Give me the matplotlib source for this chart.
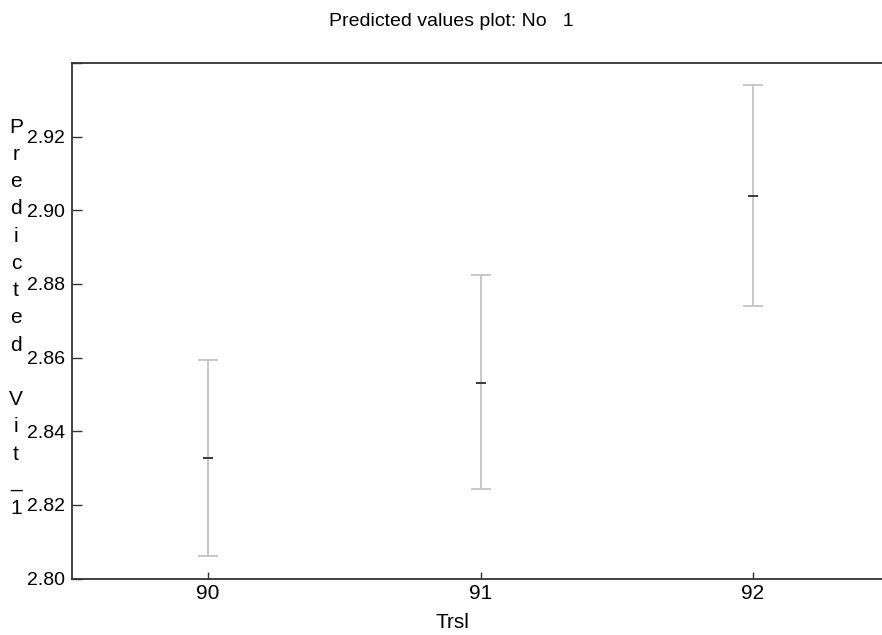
import matplotlib
matplotlib.use("Agg")
import matplotlib.pyplot as plt
from matplotlib import font_manager

# data
trsl = [90, 91, 92]
pred = [2.8327, 2.8531, 2.9040]
lower = [2.8061, 2.8242, 2.8741]
upper = [2.8594, 2.8823, 2.9339]
yticks = [2.80, 2.82, 2.84, 2.86, 2.88, 2.90, 2.92, 2.94]
ytick_labels = ["2.80", "2.82", "2.84", "2.86", "2.88", "2.90", "2.92", ""]

names = {f.name for f in font_manager.fontManager.ttflist}
fam = [f for f in ["Liberation Sans Narrow", "Liberation Sans", "DejaVu Sans"] if f in names]
plt.rcParams["font.family"] = fam
plt.rcParams["font.size"] = 14

fig = plt.figure(figsize=(8.82, 6.35), dpi=100)
ax = fig.add_axes([72 / 882, 56.5 / 635, 817 / 882, 515.5 / 635])

yerr = [[p - lo for p, lo in zip(pred, lower)], [hi - p for p, hi in zip(pred, upper)]]
ax.errorbar(trsl, pred, yerr=yerr, fmt="none", ecolor="#c4c4c4", elinewidth=1.3,
            capsize=7, capthick=1.3)
ax.plot(trsl, pred, linestyle="none", marker="_", markersize=7, mew=1.4, color="#3a3a3a")

ax.set_xlim(89.5, 92.5)
ax.set_ylim(2.80, 2.94)
ax.set_xticks(trsl)
ax.set_xticklabels([str(t) for t in trsl])
ax.set_yticks(yticks)
ax.set_yticklabels(ytick_labels)
ax.tick_params(axis="y", direction="in", length=7, width=1, color="#333333", pad=5, labelsize=14)
ax.tick_params(axis="x", direction="in", length=5, width=1, color="#333333", pad=4, labelsize=15)
for s in ["left", "top", "bottom"]:
    ax.spines[s].set_linewidth(1.3)
    ax.spines[s].set_color("#333333")
ax.spines["right"].set_visible(False)

fig.text(451 / 882, 1 - 22 / 635, "Predicted values plot: No   1", ha="center", va="center", fontsize=14)
fig.text(452 / 882, 1 - 623 / 635, "Trsl", ha="center", va="center", fontsize=15)
ylab = "\n".join(list("Predicted Vit_1"))
fig.text(16 / 882, 1 - 318 / 635, ylab, ha="center", va="center", fontsize=15, linespacing=1.55)

fig.savefig("out.png", dpi=100)
